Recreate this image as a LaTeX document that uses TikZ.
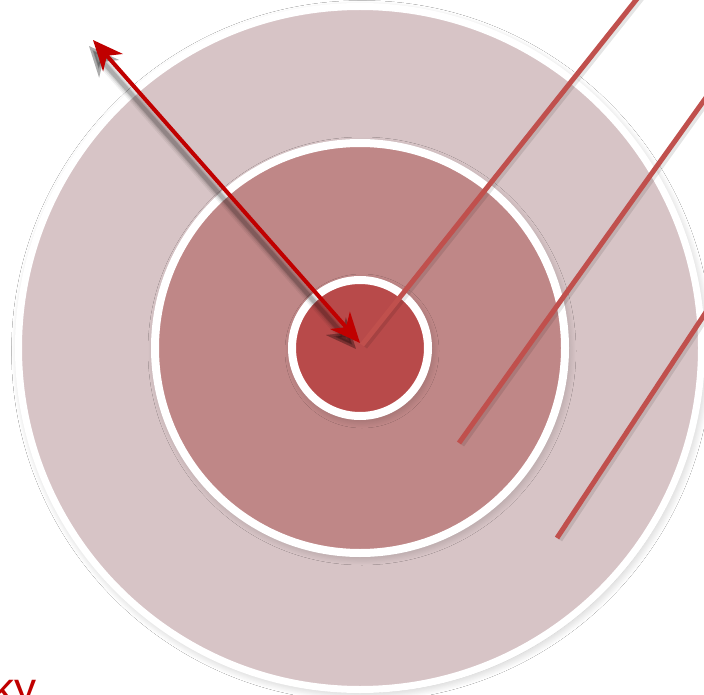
\documentclass[tikz,border=0pt]{standalone}
\usepackage{fontspec}
\setmainfont{Liberation Sans}
\usetikzlibrary{arrows.meta,shadows.blur}
\definecolor{outerfill}{RGB}{215,196,198}
\definecolor{midfill}{RGB}{191,135,135}
\definecolor{innerfill}{RGB}{184,74,74}
\definecolor{linered}{RGB}{192,80,77}
\definecolor{arrowred}{RGB}{192,0,0}
\begin{document}
\begin{tikzpicture}[x=1pt,y=-1pt,
  ringstyle/.style={draw=white,line width=7pt,
    blur shadow={shadow xshift=2pt,shadow yshift=-3pt,shadow blur radius=9pt,shadow blur steps=20,shadow opacity=25}},
  leader/.style={draw=linered,line width=5pt},
  leadershadow/.style={draw=black,line width=5pt,opacity=0.10},
  arrowline/.style={draw=arrowred,line width=4pt,
    {Stealth[length=30pt,width=26pt,inset=9pt]}-{Stealth[length=30pt,width=26pt,inset=9pt]}},
  arrowshadow/.style={draw=black,
    {Stealth[length=30pt,width=26pt,inset=9pt]}-{Stealth[length=30pt,width=26pt,inset=9pt]}}
]
\useasboundingbox (0,0) rectangle (704,695);
\clip (0,0) rectangle (704,695);
\fill[white] (0,0) rectangle (704,695);
\coordinate (c) at (360,348);
% rings
\path[ringstyle,fill=outerfill] (c) circle[radius=341.5];
\path[ringstyle,line width=8pt,fill=midfill] (c) circle[radius=205];
\path[ringstyle,line width=8pt,fill=innerfill] (c) circle[radius=68];
% leader lines
\coordinate (l1a) at (362,345); \coordinate (l1b) at (640,-5);
\coordinate (l2a) at (459,443); \coordinate (l2b) at (710,92);
\coordinate (l3a) at (557,538); \coordinate (l3b) at (710,306);
\foreach \a/\b in {l1a/l1b,l2a/l2b,l3a/l3b}{
  \draw[leadershadow] ([shift={(3,2)}]\a) -- ([shift={(3,2)}]\b);
  \draw[leader] (\a) -- (\b);
}
% arrow
\coordinate (ar1) at (93,40);
\coordinate (ar2) at (360,343);
\foreach \w/\o in {12/0.05,9/0.07,6/0.10,4/0.14}{
  \draw[arrowshadow,line width=\w pt,opacity=\o] ([shift={(-4,6)}]ar1) -- ([shift={(-4,6)}]ar2);
}
\draw[arrowline] (ar1) -- (ar2);
% partially visible text
\node[anchor=base west,inner sep=0pt,text=arrowred,font=\fontsize{44}{44}\selectfont] (txt) at (-8,703) {ky};
\end{tikzpicture}
\end{document}
